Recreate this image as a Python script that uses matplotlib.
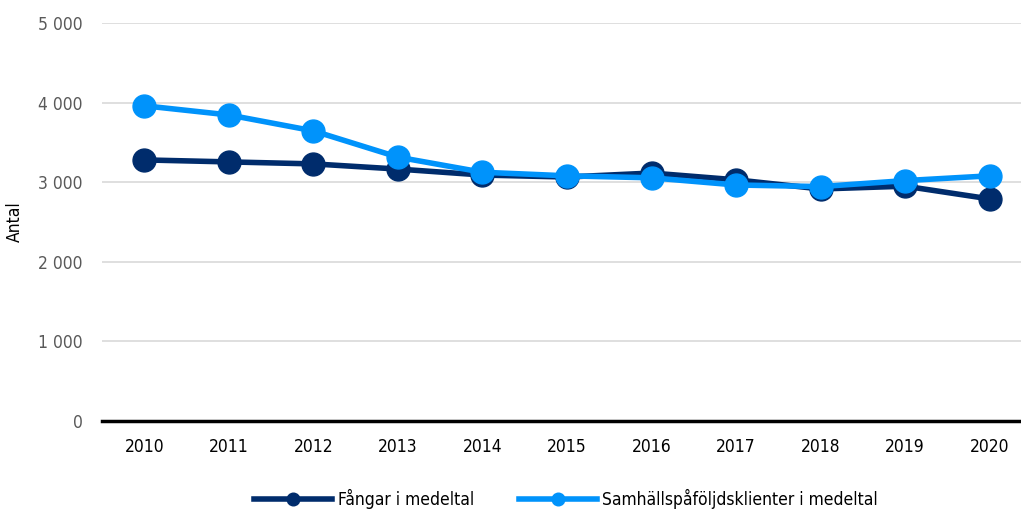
import matplotlib.pyplot as plt
from matplotlib.ticker import FuncFormatter

plt.rcParams['font.family'] = ['DejaVu Sans']
plt.rcParams['font.stretch'] = 'condensed'

years = ["2010", "2011", "2012", "2013", "2014", "2015", "2016", "2017", "2018", "2019", "2020"]
fangar = [3280, 3255, 3230, 3165, 3090, 3065, 3115, 3030, 2915, 2950, 2790]
klienter = [3960, 3845, 3645, 3315, 3125, 3080, 3055, 2965, 2945, 3020, 3080]

dark = "#002c6c"
light = "#0093fb"

fig = plt.figure(figsize=(10.21, 5.15), dpi=100)
ax = fig.add_axes([102 / 1021, 1 - 421 / 515, 1 - 102 / 1021, (421 - 23) / 515])

x = list(range(len(years)))
ax.plot(x, fangar, color=dark, lw=4, marker="o", ms=16.5, label="Fångar i medeltal", zorder=3)
ax.plot(x, klienter, color=light, lw=4, marker="o", ms=16.5,
        label="Samhällspåföljdsklienter i medeltal", zorder=4)

ax.set_ylim(0, 5000)
ax.set_xlim(-0.5, 10.37)
ax.set_yticks(range(0, 5001, 1000))
ax.yaxis.set_major_formatter(FuncFormatter(lambda v, p: f"{int(v):,}".replace(",", " ")))
ax.set_xticks(x)
ax.set_xticklabels(years)
ax.grid(axis="y", color="#d9d9d9", lw=1.2)
ax.set_axisbelow(True)
for s in ["top", "right", "left"]:
    ax.spines[s].set_visible(False)
ax.spines["bottom"].set_color("black")
ax.spines["bottom"].set_linewidth(2.5)
ax.tick_params(axis="both", length=0, labelsize=12.5)
ax.tick_params(axis="y", colors="#595959", pad=14)
ax.tick_params(axis="x", colors="black", pad=12)
ax.set_ylabel("Antal", fontsize=12.5, labelpad=10)

ax.legend(loc="lower center", bbox_to_anchor=(0.505, -0.26), ncol=2, frameon=False,
          fontsize=12.5, handlelength=4.5, columnspacing=2.6, handletextpad=0.3,
          bbox_transform=ax.transAxes, markerscale=0.55)

fig.savefig("out.png", dpi=100)
